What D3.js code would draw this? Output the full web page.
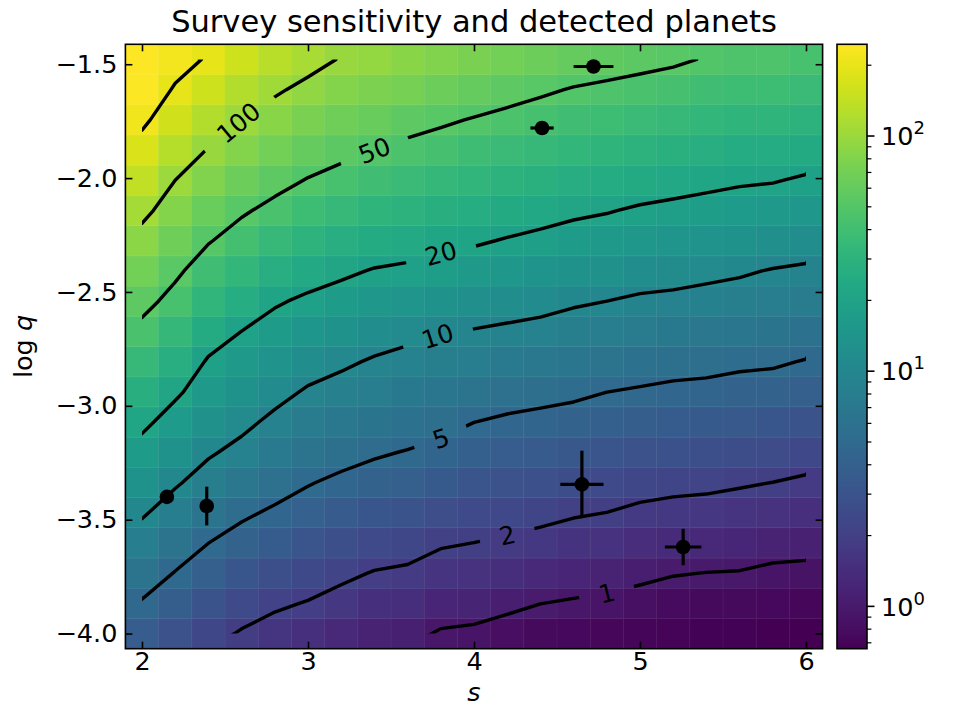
<!DOCTYPE html>
<html>
<head>
<meta charset="utf-8">
<script src="https://cdn.jsdelivr.net/npm/d3@7"></script>
<style>
  body { margin: 0; background: #fff; }
  svg { display: block; font-family: "DejaVu Sans", sans-serif; }
</style>
</head>
<body>
<svg id="chart" width="958" height="715"></svg>
<script>
// grid of the survey map (cell centres)
const sGrid = [2.0, 2.2, 2.4, 2.6, 2.8, 3.0, 3.2, 3.4, 3.6, 3.8, 4.0, 4.2, 4.4, 4.6, 4.8, 5.0, 5.2, 5.4, 5.6, 5.8, 6.0];
const logqGrid = [-4.0, -3.867, -3.735, -3.602, -3.469, -3.336, -3.204, -3.071, -2.938, -2.806,
                  -2.673, -2.540, -2.408, -2.275, -2.142, -2.010, -1.877, -1.744, -1.611, -1.479];

// log10 of the sensitivity, one list per s column, from log q = -4 upwards
const sensitivityLog10 = [
  [0.57, 0.68, 0.80, 0.91, 1.02, 1.13, 1.23, 1.34, 1.44, 1.54, 1.65, 1.75, 1.84, 1.94, 2.04, 2.14, 2.24, 2.33, 2.37, 2.39],
  [0.47, 0.58, 0.69, 0.80, 0.91, 1.02, 1.12, 1.22, 1.33, 1.43, 1.53, 1.64, 1.73, 1.82, 1.91, 2.00, 2.10, 2.20, 2.29, 2.34],
  [0.37, 0.48, 0.59, 0.70, 0.81, 0.92, 1.02, 1.11, 1.20, 1.28, 1.39, 1.50, 1.60, 1.71, 1.80, 1.90, 1.99, 2.09, 2.19, 2.29],
  [0.28, 0.40, 0.51, 0.62, 0.73, 0.84, 0.95, 1.04, 1.13, 1.21, 1.30, 1.41, 1.51, 1.62, 1.72, 1.81, 1.91, 2.00, 2.09, 2.19],
  [0.22, 0.33, 0.44, 0.56, 0.67, 0.77, 0.87, 0.96, 1.05, 1.14, 1.23, 1.32, 1.43, 1.54, 1.65, 1.75, 1.84, 1.93, 2.02, 2.11],
  [0.18, 0.29, 0.39, 0.50, 0.61, 0.71, 0.80, 0.89, 0.98, 1.07, 1.17, 1.27, 1.37, 1.48, 1.58, 1.69, 1.78, 1.87, 1.96, 2.05],
  [0.12, 0.23, 0.34, 0.44, 0.55, 0.66, 0.76, 0.85, 0.93, 1.03, 1.13, 1.23, 1.33, 1.43, 1.54, 1.64, 1.74, 1.82, 1.91, 1.99],
  [0.07, 0.18, 0.29, 0.40, 0.51, 0.62, 0.72, 0.81, 0.90, 0.98, 1.08, 1.19, 1.29, 1.39, 1.49, 1.60, 1.70, 1.79, 1.88, 1.97],
  [0.05, 0.16, 0.27, 0.37, 0.48, 0.59, 0.69, 0.78, 0.86, 0.95, 1.04, 1.16, 1.27, 1.37, 1.47, 1.56, 1.66, 1.75, 1.85, 1.93],
  [-0.02, 0.09, 0.21, 0.32, 0.43, 0.54, 0.65, 0.75, 0.83, 0.92, 1.01, 1.13, 1.24, 1.34, 1.44, 1.53, 1.63, 1.72, 1.81, 1.90],
  [-0.04, 0.08, 0.19, 0.30, 0.40, 0.50, 0.60, 0.70, 0.80, 0.90, 0.99, 1.10, 1.21, 1.32, 1.41, 1.50, 1.59, 1.69, 1.78, 1.87],
  [-0.08, 0.04, 0.16, 0.27, 0.38, 0.47, 0.57, 0.67, 0.77, 0.87, 0.97, 1.07, 1.18, 1.29, 1.38, 1.47, 1.56, 1.66, 1.75, 1.84],
  [-0.11, 0.002, 0.12, 0.24, 0.35, 0.45, 0.55, 0.65, 0.75, 0.85, 0.95, 1.05, 1.15, 1.26, 1.36, 1.45, 1.54, 1.63, 1.72, 1.81],
  [-0.12, -0.02, 0.09, 0.20, 0.32, 0.42, 0.52, 0.63, 0.73, 0.83, 0.92, 1.02, 1.13, 1.23, 1.33, 1.42, 1.51, 1.60, 1.69, 1.78],
  [-0.13, -0.04, 0.07, 0.19, 0.30, 0.40, 0.50, 0.60, 0.70, 0.80, 0.90, 1.00, 1.11, 1.21, 1.31, 1.40, 1.49, 1.58, 1.67, 1.76],
  [-0.14, -0.07, 0.04, 0.15, 0.26, 0.37, 0.47, 0.58, 0.68, 0.78, 0.88, 0.97, 1.08, 1.18, 1.28, 1.38, 1.47, 1.56, 1.65, 1.74],
  [-0.15, -0.10, 0.01, 0.13, 0.24, 0.35, 0.46, 0.56, 0.66, 0.76, 0.86, 0.96, 1.06, 1.16, 1.26, 1.36, 1.45, 1.54, 1.63, 1.72],
  [-0.16, -0.11, -0.003, 0.11, 0.23, 0.34, 0.44, 0.54, 0.65, 0.75, 0.84, 0.94, 1.04, 1.14, 1.24, 1.34, 1.43, 1.51, 1.60, 1.69],
  [-0.16, -0.11, -0.01, 0.10, 0.21, 0.32, 0.42, 0.53, 0.63, 0.73, 0.83, 0.92, 1.02, 1.12, 1.22, 1.32, 1.40, 1.49, 1.58, 1.67],
  [-0.17, -0.12, -0.04, 0.07, 0.19, 0.30, 0.41, 0.51, 0.62, 0.72, 0.81, 0.90, 0.99, 1.10, 1.20, 1.31, 1.40, 1.49, 1.58, 1.67],
  [-0.18, -0.13, -0.05, 0.06, 0.17, 0.27, 0.38, 0.48, 0.59, 0.69, 0.79, 0.88, 0.97, 1.08, 1.18, 1.28, 1.38, 1.47, 1.56, 1.64]
];

const contourLevels = [1, 2, 5, 10, 20, 50, 100, 200];
// where along s each contour carries its inline label
const labelLevels = [100, 50, 20, 10, 5, 2, 1];
const labelS = [2.58, 3.40, 3.80, 3.78, 3.80, 4.20, 4.80];

// detected planets
const planetS = [2.15, 2.39, 4.65, 5.26, 4.72, 4.41];
const planetLogq = [-3.40, -3.44, -3.345, -3.62, -1.51, -1.78];
const planetSErr = [0.02, 0.02, 0.13, 0.11, 0.12, 0.07];
const planetLogqErr = [0.02, 0.085, 0.148, 0.08, 0.02, 0.02];

const xTicks = [2, 3, 4, 5, 6];
const yTicks = [-4.0, -3.5, -3.0, -2.5, -2.0, -1.5];
const cbarTicks = [1, 10, 100];

const svg = d3.select('#chart');
const plot = {left: 125.4, right: 822.6, top: 44.3, bottom: 648.7};
const cbar = {left: 837, right: 867};
const ns = sGrid.length, nq = logqGrid.length;
const sStep = sGrid[1] - sGrid[0];
const qStep = logqGrid[1] - logqGrid[0];
const tickFont = 25.5;

const x = d3.scaleLinear()
    .domain([sGrid[0] - sStep / 2, sGrid[ns - 1] + sStep / 2])
    .range([plot.left, plot.right]);
const y = d3.scaleLinear()
    .domain([logqGrid[0] - qStep / 2, logqGrid[nq - 1] + qStep / 2])
    .range([plot.bottom, plot.top]);

const allLog = sensitivityLog10.flat();
const vmin = Math.pow(10, d3.min(allLog));
const vmax = Math.pow(10, d3.max(allLog));
const color = d3.scaleSequentialLog(d3.interpolateViridis).domain([vmin, vmax]);

// heat map cells
const cells = [];
sGrid.forEach((s, j) => logqGrid.forEach((q, i) => {
    cells.push({s: s, q: q, v: Math.pow(10, sensitivityLog10[j][i])});
}));
svg.append('g')
    .selectAll('rect')
    .data(cells)
    .join('rect')
    .attr('x', d => x(d.s - sStep / 2))
    .attr('y', d => y(d.q + qStep / 2))
    .attr('width', d => x(d.s + sStep / 2) - x(d.s - sStep / 2))
    .attr('height', d => y(d.q - qStep / 2) - y(d.q + qStep / 2))
    .attr('fill', d => color(d.v))
    .attr('stroke', d => color(d.v))
    .attr('stroke-width', 0.6);

// faint seams between the cells
const seams = svg.append('g').attr('stroke', '#fff').attr('stroke-opacity', 0.06).attr('stroke-width', 1);
sGrid.slice(1).forEach(s => seams.append('line')
    .attr('x1', x(s - sStep / 2)).attr('x2', x(s - sStep / 2))
    .attr('y1', plot.top).attr('y2', plot.bottom));
logqGrid.slice(1).forEach(q => seams.append('line')
    .attr('x1', plot.left).attr('x2', plot.right)
    .attr('y1', y(q - qStep / 2)).attr('y2', y(q - qStep / 2)));

// contours on the grid of cell centres
const values = [];
for (let gy = 0; gy < nq; gy++) {
    for (let gx = 0; gx < ns; gx++) {
        values.push(Math.pow(10, sensitivityLog10[gx][gy]));
    }
}
const contours = d3.contours().size([ns, nq]).thresholds(contourLevels)(values);
const gxToS = d3.scaleLinear().domain([0.5, ns - 0.5]).range([sGrid[0], sGrid[ns - 1]]);
const gyToQ = d3.scaleLinear().domain([0.5, nq - 0.5]).range([logqGrid[0], logqGrid[nq - 1]]);
const project = p => [x(gxToS(p[0])), y(gyToQ(p[1]))];

const clip = {x0: x(sGrid[0]), x1: x(sGrid[ns - 1]), y0: y(logqGrid[nq - 1]), y1: y(logqGrid[0])};

const defs = svg.append('defs');
defs.append('clipPath').attr('id', 'centres')
    .append('rect')
    .attr('x', clip.x0).attr('y', clip.y0)
    .attr('width', clip.x1 - clip.x0).attr('height', clip.y1 - clip.y0);

// find the label spot and direction on a contour
const labelSpot = (level, s) => {
    const c = contours.find(d => d.value === level);
    const px = x(s);
    let spot = null;
    c.coordinates.forEach(poly => poly.forEach(ring => {
        const pts = ring.map(project);
        for (let k = 1; k < pts.length; k++) {
            const [x0, y0] = pts[k - 1];
            const [x1, y1] = pts[k];
            if (x0 === x1 || (x0 - px) * (x1 - px) > 0) {continue;}
            const t = (px - x0) / (x1 - x0);
            const py = y0 + t * (y1 - y0);
            if (py < clip.y0 || py > clip.y1) {continue;}
            let ang = Math.atan2(y1 - y0, x1 - x0) * 180 / Math.PI;
            if (ang > 90) {ang -= 180;}
            if (ang < -90) {ang += 180;}
            spot = {x: px, y: py, angle: ang};
        }
    }));
    return spot;
};

const labelFont = 25;
const labels = labelLevels.map((lv, k) => {
    const spot = labelSpot(lv, labelS[k]);
    const txt = String(lv);
    return Object.assign({text: txt, gap: txt.length * 0.636 * labelFont + 40}, spot);
}).filter(d => d.x !== undefined);

const mask = defs.append('mask').attr('id', 'labelGaps')
    .attr('maskUnits', 'userSpaceOnUse')
    .attr('x', 0).attr('y', 0).attr('width', 958).attr('height', 715);
mask.append('rect').attr('x', 0).attr('y', 0).attr('width', 958).attr('height', 715).attr('fill', '#fff');
mask.selectAll('rect.gap')
    .data(labels)
    .join('rect')
    .attr('class', 'gap')
    .attr('x', d => -d.gap / 2).attr('y', -10)
    .attr('width', d => d.gap).attr('height', 20)
    .attr('fill', '#000')
    .attr('transform', d => `translate(${d.x},${d.y}) rotate(${d.angle})`);

const ringPath = ring => 'M' + ring.map(project).map(p => p.join(',')).join('L') + 'Z';
svg.append('g')
    .attr('mask', 'url(#labelGaps)')
    .append('g')
    .attr('clip-path', 'url(#centres)')
    .selectAll('path')
    .data(contours)
    .join('path')
    .attr('d', c => c.coordinates.map(poly => poly.map(ringPath).join('')).join(''))
    .attr('fill', 'none')
    .attr('stroke', '#000')
    .attr('stroke-width', 3.4)
    .attr('stroke-linejoin', 'round');

svg.append('g')
    .selectAll('text')
    .data(labels)
    .join('text')
    .attr('transform', d => `translate(${d.x},${d.y}) rotate(${d.angle})`)
    .attr('text-anchor', 'middle')
    .attr('dy', '0.36em')
    .attr('font-size', labelFont)
    .attr('fill', '#000')
    .text(d => d.text);

// planets with error bars
const planets = planetS.map((s, k) => ({s: s, q: planetLogq[k], se: planetSErr[k], qe: planetLogqErr[k]}));
const pg = svg.append('g');
pg.selectAll('line.h')
    .data(planets)
    .join('line')
    .attr('class', 'h')
    .attr('x1', d => x(d.s - d.se)).attr('x2', d => x(d.s + d.se))
    .attr('y1', d => y(d.q)).attr('y2', d => y(d.q))
    .attr('stroke', '#000').attr('stroke-width', 3.2);
pg.selectAll('line.v')
    .data(planets)
    .join('line')
    .attr('class', 'v')
    .attr('x1', d => x(d.s)).attr('x2', d => x(d.s))
    .attr('y1', d => y(d.q - d.qe)).attr('y2', d => y(d.q + d.qe))
    .attr('stroke', '#000').attr('stroke-width', 3.2);
pg.selectAll('circle')
    .data(planets)
    .join('circle')
    .attr('cx', d => x(d.s)).attr('cy', d => y(d.q))
    .attr('r', 7.3)
    .attr('fill', '#000');

// axes, ticks pointing inwards on all four sides
const styleAxis = g => {
    g.select('.domain').remove();
    g.selectAll('.tick line').attr('stroke', '#000').attr('stroke-width', 1.6);
    g.selectAll('.tick text').attr('fill', '#000').attr('font-size', tickFont)
        .attr('font-family', '"DejaVu Sans", sans-serif');
};
svg.append('g')
    .attr('transform', `translate(0,${plot.bottom})`)
    .call(d3.axisBottom(x).tickValues(xTicks).tickSize(-7).tickPadding(3).tickFormat(d3.format('d')))
    .call(styleAxis);
svg.append('g')
    .attr('transform', `translate(0,${plot.top})`)
    .call(d3.axisTop(x).tickValues(xTicks).tickSize(-7).tickFormat(''))
    .call(styleAxis);
svg.append('g')
    .attr('transform', `translate(${plot.left},0)`)
    .call(d3.axisLeft(y).tickValues(yTicks).tickSize(-7).tickPadding(8).tickFormat(d3.format('.1f')))
    .call(styleAxis);
svg.append('g')
    .attr('transform', `translate(${plot.right},0)`)
    .call(d3.axisRight(y).tickValues(yTicks).tickSize(-7).tickFormat(''))
    .call(styleAxis);

svg.append('rect')
    .attr('x', plot.left).attr('y', plot.top)
    .attr('width', plot.right - plot.left).attr('height', plot.bottom - plot.top)
    .attr('fill', 'none').attr('stroke', '#000').attr('stroke-width', 1.6);

// titles
svg.append('text')
    .attr('x', (plot.left + plot.right) / 2).attr('y', 32)
    .attr('text-anchor', 'middle').attr('font-size', 30.5)
    .text('Survey sensitivity and detected planets');
svg.append('text')
    .attr('x', (plot.left + plot.right) / 2).attr('y', 701)
    .attr('text-anchor', 'middle').attr('font-size', tickFont).attr('font-style', 'italic')
    .text('s');
const yl = svg.append('text')
    .attr('transform', `translate(32,${(plot.top + plot.bottom) / 2}) rotate(-90)`)
    .attr('text-anchor', 'middle').attr('font-size', tickFont);
yl.append('tspan').text('log ');
yl.append('tspan').attr('font-style', 'italic').text('q');

// colour bar
const cScale = d3.scaleLog().domain([vmin, vmax]).range([plot.bottom, plot.top]);
const grad = defs.append('linearGradient').attr('id', 'viridisBar')
    .attr('x1', 0).attr('y1', 1).attr('x2', 0).attr('y2', 0);
d3.range(0, 1.0001, 0.02).forEach(t => grad.append('stop')
    .attr('offset', t).attr('stop-color', d3.interpolateViridis(t)));
svg.append('rect')
    .attr('x', cbar.left).attr('y', plot.top)
    .attr('width', cbar.right - cbar.left).attr('height', plot.bottom - plot.top)
    .attr('fill', 'url(#viridisBar)')
    .attr('stroke', '#000').attr('stroke-width', 1.6);

const minorTicks = [];
for (let e = Math.floor(Math.log10(vmin)); e <= Math.ceil(Math.log10(vmax)); e++) {
    for (let m = 2; m <= 9; m++) {
        const v = m * Math.pow(10, e);
        if (v >= vmin && v <= vmax) {minorTicks.push(v);}
    }
}
svg.append('g')
    .selectAll('line')
    .data(minorTicks)
    .join('line')
    .attr('x1', cbar.right).attr('x2', cbar.right + 4.4)
    .attr('y1', d => cScale(d)).attr('y2', d => cScale(d))
    .attr('stroke', '#000').attr('stroke-width', 1.2);
const major = svg.append('g')
    .selectAll('g')
    .data(cbarTicks)
    .join('g')
    .attr('transform', d => `translate(${cbar.right},${cScale(d)})`);
major.append('line').attr('x2', 7.5).attr('stroke', '#000').attr('stroke-width', 1.6);
const lab = major.append('text')
    .attr('x', 14).attr('dy', '0.36em')
    .attr('font-size', tickFont);
lab.append('tspan').text('10');
lab.append('tspan')
    .attr('font-size', 18).attr('dy', -11)
    .text(d => Math.round(Math.log10(d)));
</script>
</body>
</html>
